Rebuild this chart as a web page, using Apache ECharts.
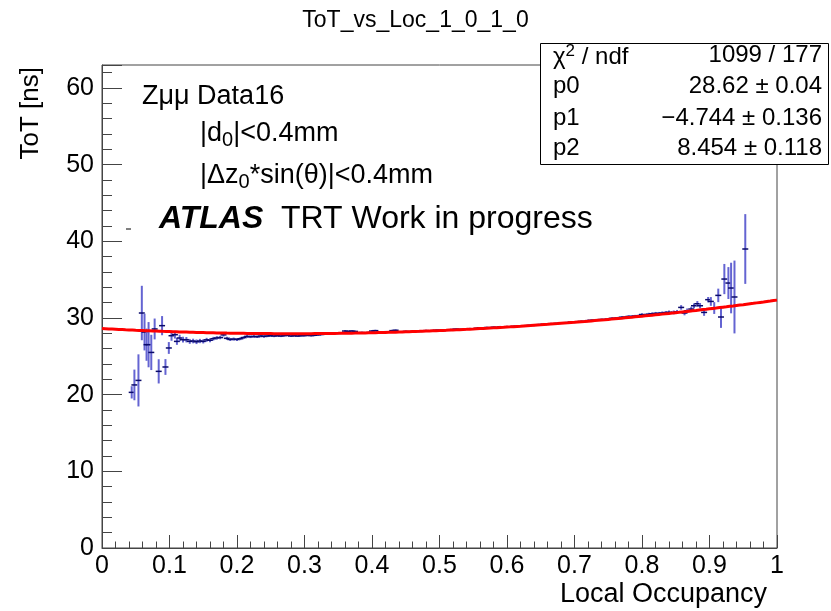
<!DOCTYPE html>
<html>
<head>
<meta charset="utf-8">
<script src="https://cdn.jsdelivr.net/npm/echarts@6/dist/echarts.min.js"></script>
<style>
  html, body { margin: 0; padding: 0; background: #fff; }
  #chart { width: 831px; height: 611px; }
</style>
</head>
<body>
<div id="chart"></div>
<script>
// Profile of time-over-threshold vs local occupancy (bin centres, mean, error on mean)
const occupancy = [
  0.044, 0.048, 0.054, 0.059, 0.063, 0.066, 0.069, 0.073, 0.078, 0.084,
  0.089, 0.094, 0.099, 0.103, 0.108, 0.111, 0.115, 0.120, 0.125, 0.130,
  0.135, 0.140, 0.145, 0.150, 0.155, 0.160, 0.165, 0.170, 0.175, 0.180,
  0.185, 0.190, 0.195, 0.200, 0.205, 0.210, 0.215, 0.220, 0.225, 0.230,
  0.235, 0.240, 0.245, 0.250, 0.255, 0.260, 0.265, 0.270, 0.275, 0.280,
  0.285, 0.290, 0.295,
  0.300, 0.305, 0.310, 0.315, 0.320, 0.325, 0.330, 0.335, 0.340, 0.345,
  0.350, 0.355, 0.360, 0.365, 0.370, 0.375, 0.380, 0.385, 0.390, 0.395,
  0.400, 0.405, 0.410, 0.415, 0.420, 0.425, 0.430, 0.435, 0.440, 0.445,
  0.450, 0.455, 0.460, 0.465, 0.470, 0.475, 0.480, 0.485, 0.490, 0.495,
  0.500, 0.505, 0.510, 0.515, 0.520, 0.525, 0.530, 0.535, 0.540, 0.545,
  0.550, 0.555, 0.560, 0.565, 0.570, 0.575, 0.580, 0.585, 0.590, 0.595,
  0.600, 0.605, 0.610, 0.615, 0.620, 0.625, 0.630, 0.635, 0.640, 0.645,
  0.650, 0.655, 0.660, 0.665, 0.670, 0.675, 0.680, 0.685, 0.690, 0.695,
  0.700, 0.705, 0.710, 0.715, 0.720, 0.725, 0.730, 0.735, 0.740, 0.745,
  0.750, 0.755, 0.760, 0.765, 0.770, 0.775, 0.780, 0.785, 0.790, 0.795,
  0.800, 0.805, 0.810, 0.815, 0.820, 0.825, 0.830, 0.835, 0.840,
  0.847, 0.852, 0.858, 0.863, 0.867, 0.873, 0.877, 0.882, 0.886, 0.892,
  0.898, 0.902, 0.907, 0.913, 0.917, 0.922, 0.928, 0.932, 0.937, 0.953
];

const totMean = [
  20.3, 21.27, 21.86, 30.65, 28.17, 26.52, 26.52, 25.51, 28.57, 23.04,
  29.0, 23.61, 26.09, 27.69, 27.82, 26.95, 27.39, 27.17, 27.17, 26.95,
  27.0, 26.9, 27.0, 26.95, 27.15, 27.1, 27.3, 27.4, 27.45, 27.8,
  27.35, 27.2, 27.25, 27.2, 27.3, 27.45, 27.6, 27.55, 27.6, 27.55,
  27.65, 27.6, 27.65, 27.7, 27.65, 27.7, 27.65, 27.7, 27.75, 27.65,
  27.7, 27.65, 27.7,
  27.7, 27.75, 27.7, 27.75, 27.8, 27.85, 27.9, 27.95, 27.95, 28.0,
  28.0, 28.05, 28.3, 28.25, 28.3, 28.25, 28.05, 28.1, 28.05, 28.1,
  28.3, 28.35, 28.15, 28.15, 28.2, 28.15, 28.35, 28.4, 28.2, 28.2,
  28.25, 28.2, 28.25, 28.3, 28.25, 28.3, 28.35, 28.3, 28.35, 28.4,
  28.4, 28.35, 28.45, 28.4, 28.5, 28.55, 28.5, 28.5, 28.55, 28.6,
  28.55, 28.65, 28.7, 28.7, 28.75, 28.7, 28.8, 28.75, 28.85, 28.8,
  28.85, 28.85, 28.9, 28.9, 28.95, 28.95, 29.0, 29.05, 29.05, 29.1,
  29.15, 29.15, 29.2, 29.25, 29.25, 29.3, 29.35, 29.35, 29.4, 29.45,
  29.45, 29.5, 29.55, 29.55, 29.65, 29.7, 29.7, 29.75, 29.8, 29.8,
  29.85, 29.95, 29.95, 30.0, 30.1, 30.1, 30.2, 30.2, 30.25, 30.3,
  30.45, 30.4, 30.5, 30.55, 30.6, 30.6, 30.65, 30.7, 30.75,
  30.73, 30.8, 31.38, 30.65, 30.95, 31.17, 31.6, 31.86, 31.6, 30.73,
  32.39, 32.16, 31.3, 32.95, 30.13, 35.08, 34.56, 33.91, 32.74, 39.0
];

const totError = [
  0.8, 2.0, 3.4, 3.55, 2.4, 2.1, 2.95, 2.3, 1.36, 1.58,
  1.25, 1.03, 0.77, 0.66, 0.5, 0.45, 0.42, 0.38, 0.35, 0.32,
  0.3, 0.3, 0.28, 0.27, 0.26, 0.25, 0.24, 0.23, 0.22, 0.22,
  0.21, 0.2, 0.2, 0.19, 0.19, 0.18, 0.18, 0.17, 0.17, 0.16,
  0.16, 0.16, 0.15, 0.15, 0.15, 0.14, 0.14, 0.14, 0.14, 0.13,
  0.13, 0.13, 0.13,
  0.12, 0.12, 0.12, 0.12, 0.12, 0.12, 0.12, 0.12, 0.12, 0.12,
  0.12, 0.12, 0.12, 0.12, 0.12, 0.12, 0.12, 0.12, 0.12, 0.12,
  0.12, 0.12, 0.12, 0.12, 0.12, 0.12, 0.12, 0.12, 0.12, 0.12,
  0.12, 0.12, 0.12, 0.12, 0.12, 0.12, 0.12, 0.12, 0.12, 0.12,
  0.12, 0.12, 0.12, 0.12, 0.12, 0.12, 0.12, 0.12, 0.12, 0.12,
  0.12, 0.12, 0.12, 0.12, 0.12, 0.12, 0.12, 0.12, 0.12, 0.12,
  0.13, 0.13, 0.13, 0.13, 0.13, 0.13, 0.13, 0.13, 0.13, 0.13,
  0.13, 0.13, 0.13, 0.13, 0.13, 0.13, 0.13, 0.13, 0.13, 0.13,
  0.14, 0.14, 0.14, 0.14, 0.14, 0.14, 0.14, 0.14, 0.14, 0.14,
  0.15, 0.15, 0.15, 0.15, 0.15, 0.15, 0.16, 0.16, 0.16, 0.16,
  0.17, 0.17, 0.18, 0.18, 0.19, 0.19, 0.2, 0.21, 0.22,
  0.25, 0.25, 0.3, 0.3, 0.3, 0.3, 0.3, 0.35, 0.35, 0.45,
  0.35, 0.57, 0.77, 0.88, 1.42, 1.97, 2.08, 3.3, 4.75, 4.55
];

// Second-order polynomial fit p0 + p1*x + p2*x^2
const fitParams = [28.62, -4.744, 8.454];
const fitErrors = [0.04, 0.136, 0.118];
const fitChi2 = 1099;
const fitNdf = 177;

// Axis ticks
const xTicks = { min: 0, max: 1, step: 0.1 };
const yTicks = { min: 0, max: 63, step: 10 };

const FONT = '"Liberation Sans", Arial, Helvetica, sans-serif';

const points = occupancy.map((x, i) => [x, totMean[i], totError[i]]);

const fitCurve = [];
for (let i = 0; i <= 200; i++) {
  const x = i / 200;
  fitCurve.push([x, fitParams[0] + fitParams[1] * x + fitParams[2] * x * x]);
}

const chart = echarts.init(document.getElementById('chart'), null, { renderer: 'canvas' });

function statRow(label, value, y) {
  return [
    { type: 'text', left: 553, top: y - 14, z: 101,
      style: { text: label, font: '24px ' + FONT, fill: '#000',
        rich: { sup: { fontSize: 17, fontFamily: FONT, padding: [0, 0, 12, 0] } } } },
    { type: 'text', right: 9, top: y - 14, z: 101,
      style: { text: value, font: '24px ' + FONT, fill: '#000', textAlign: 'right' } }
  ];
}

const pm = (v, e) => v + ' \u00B1 ' + e;

chart.setOption({
  animation: false,
  backgroundColor: '#fff',
  title: {
    text: 'ToT_vs_Loc_1_0_1_0',
    left: 'center',
    top: 4,
    textStyle: { fontFamily: FONT, fontSize: 23, fontWeight: 'normal', color: '#000' }
  },
  grid: {
    left: 102, right: 54, top: 65, bottom: 63,
    show: true, borderColor: '#444', borderWidth: 1, backgroundColor: 'transparent'
  },
  xAxis: {
    type: 'value', min: xTicks.min, max: xTicks.max, interval: xTicks.step,
    axisLine: { lineStyle: { color: '#444', width: 1 } },
    axisTick: { inside: true, length: 13, lineStyle: { color: '#444' } },
    minorTick: { show: true, splitNumber: 5, length: 6.5, lineStyle: { color: '#444' } },
    splitLine: { show: false },
    axisLabel: { fontFamily: FONT, fontSize: 25, color: '#000', margin: 6 }
  },
  yAxis: {
    type: 'value', min: yTicks.min, max: yTicks.max, interval: yTicks.step,
    axisLine: { lineStyle: { color: '#444', width: 1 } },
    axisTick: { inside: true, length: 20, lineStyle: { color: '#444' } },
    minorTick: { show: true, splitNumber: 5, length: 10, lineStyle: { color: '#444' } },
    splitLine: { show: false },
    axisLabel: { fontFamily: FONT, fontSize: 25, color: '#000', margin: 8, showMaxLabel: false }
  },
  series: [
    {
      type: 'custom',
      data: points,
      z: 2,
      renderItem: function (params, api) {
        const x = api.value(0), y = api.value(1), e = api.value(2);
        const c = api.coord([x, y]);
        const hi = api.coord([x, y + e]);
        const lo = api.coord([x, y - e]);
        return {
          type: 'group',
          children: [
            { type: 'line', shape: { x1: c[0], y1: hi[1], x2: c[0], y2: lo[1] },
              style: { stroke: '#6464d2', lineWidth: 2 } },
            { type: 'line', shape: { x1: c[0] - 3, y1: c[1], x2: c[0] + 3, y2: c[1] },
              style: { stroke: '#0a0a6a', lineWidth: 1.5 } }
          ]
        };
      }
    },
    {
      type: 'line',
      data: fitCurve,
      z: 5,
      showSymbol: false,
      smooth: false,
      lineStyle: { color: '#ff0000', width: 3 }
    }
  ],
  graphic: [
    // axis titles
    { type: 'text', right: 64, top: 581,
      style: { text: 'Local Occupancy', font: '27px ' + FONT, fill: '#000', textAlign: 'right' } },
    { type: 'text', x: 31, y: 67, rotation: Math.PI / 2,
      style: { text: 'ToT [ns]', font: '26px ' + FONT, fill: '#000', textAlign: 'right', textVerticalAlign: 'middle' } },
    // annotations
    { type: 'text', left: 142, top: 83,
      style: { text: 'Z\u03BC\u03BC Data16', font: '27px ' + FONT, fill: '#000' } },
    { type: 'text', left: 200, top: 120,
      style: { text: '|d{sub|0}|<0.4mm', font: '27px ' + FONT, fill: '#000',
        rich: { sub: { fontSize: 20, fontFamily: FONT, padding: [14, 0, 0, 0] } } } },
    { type: 'text', left: 200, top: 162,
      style: { text: '|\u0394z{sub|0}*sin(\u03B8)|<0.4mm', font: '27px ' + FONT, fill: '#000',
        rich: { sub: { fontSize: 20, fontFamily: FONT, padding: [14, 0, 0, 0] } } } },
    { type: 'text', left: 159, top: 203,
      style: { text: 'ATLAS', font: 'italic bold 32px ' + FONT, fill: '#000' } },
    { type: 'text', left: 281, top: 203,
      style: { text: 'TRT Work in progress', font: '32px ' + FONT, fill: '#000' } },
    { type: 'line', shape: { x1: 126, y1: 229, x2: 131, y2: 229 }, style: { stroke: '#000', lineWidth: 1 } },
    // fit statistics box
    { type: 'rect', z: 100, shape: { x: 540.5, y: 43.5, width: 288, height: 121 },
      style: { fill: '#fff', stroke: '#000', lineWidth: 1 } },
    ...statRow('\u03C7{sup|2} / ndf', fitChi2 + ' / ' + fitNdf, 57),
    ...statRow('p0', pm(fitParams[0].toFixed(2), fitErrors[0].toFixed(2)), 88),
    ...statRow('p1', pm('\u2212' + Math.abs(fitParams[1]).toFixed(3), fitErrors[1].toFixed(3)), 120),
    ...statRow('p2', pm(fitParams[2].toFixed(3), fitErrors[2].toFixed(3)), 150)
  ]
});
</script>
</body>
</html>
